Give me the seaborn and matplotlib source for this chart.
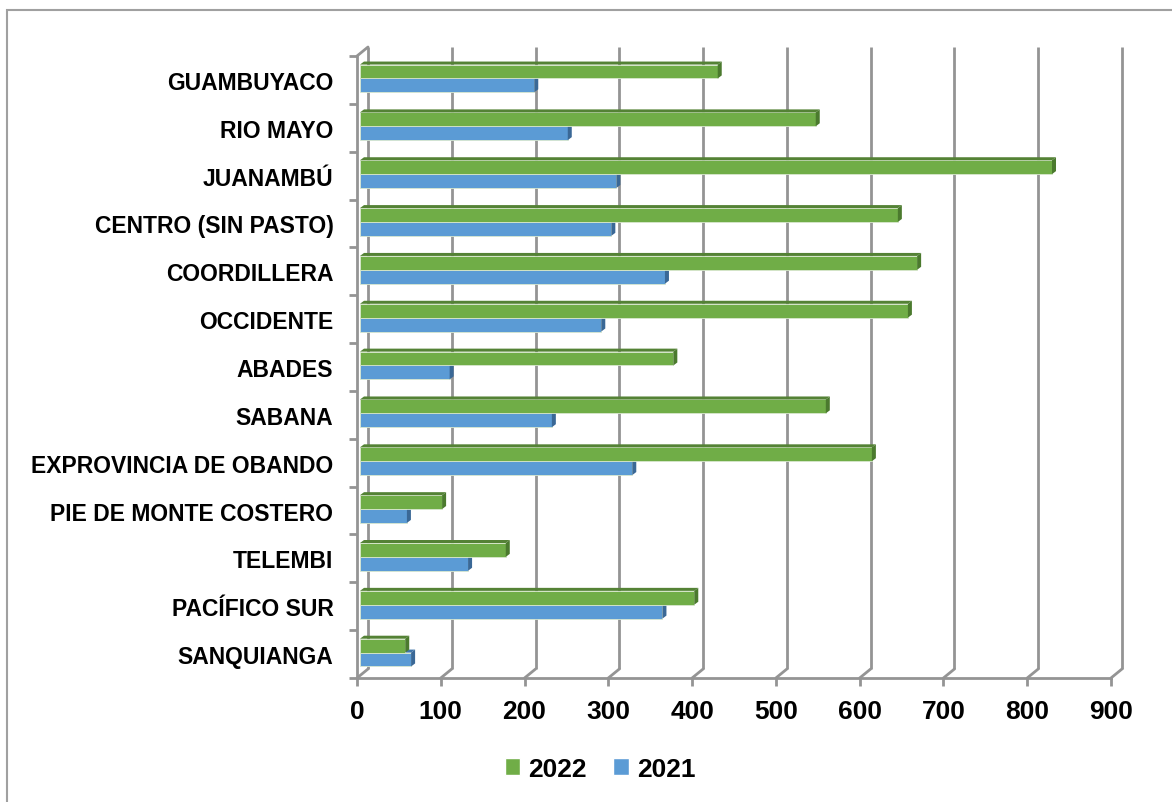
import matplotlib
matplotlib.use("Agg")
import matplotlib.pyplot as plt
from matplotlib.patches import Polygon, Patch, Rectangle
import seaborn as sns
import pandas as pd

# data
regions = ["GUAMBUYACO", "RIO MAYO", "JUANAMBÚ", "CENTRO (SIN PASTO)", "COORDILLERA",
           "OCCIDENTE", "ABADES", "SABANA", "EXPROVINCIA DE OBANDO",
           "PIE DE MONTE COSTERO", "TELEMBI", "PACÍFICO SUR", "SANQUIANGA"]
values_2022 = [427, 544, 826, 642, 665, 654, 374, 556, 611, 98, 174, 399, 54]
values_2021 = [208, 248, 306, 300, 364, 288, 107, 229, 325, 56, 129, 361, 61]
years = ["2022", "2021"]
x_ticks = [0, 100, 200, 300, 400, 500, 600, 700, 800, 900]

GREEN = "#70AD47"
GREEN_TOP = "#548235"
GREEN_END = "#4B7A2E"
BLUE = "#5B9BD5"
BLUE_TOP = "#3F75A8"
BLUE_END = "#3A6896"
GRID = "#949494"

df = pd.DataFrame({
    "region": regions * 2,
    "year": [years[0]] * len(regions) + [years[1]] * len(regions),
    "value": values_2022 + values_2021,
})

sns.set_style("white")
plt.rcParams["font.family"] = ["Liberation Sans", "DejaVu Sans"]
plt.rcParams["font.weight"] = "bold"
plt.rcParams["text.color"] = "black"
plt.rcParams["xtick.labelcolor"] = "black"
plt.rcParams["ytick.labelcolor"] = "black"

W, H = 1172, 803
fig = plt.figure(figsize=(W / 100, H / 100), dpi=100)
left, right, top, bottom = 357, 1111, 57, 679
ax = fig.add_axes([left / W, 1 - bottom / H, (right - left) / W, (bottom - top) / H])

sns.barplot(data=df, y="region", x="value", hue="year", hue_order=years,
            palette=[GREEN, BLUE], orient="h", width=0.58, ax=ax,
            legend=False, saturation=1, linewidth=0.6, edgecolor="#d9e8cf",
            zorder=3)

n = len(regions)
ax.set_xlim(0, 900)
ax.set_ylim(n - 0.5, -0.5)

# pixel -> data conversions for the fake 3D depth
px_x = (right - left) / 900.0
px_y = (bottom - top) / float(n)
wall_dx, wall_dy = 11 / px_x, 9 / px_y
cap_dx, cap_dy = 4 / px_x, 3 / px_y
bar_dx, bar_dy = 3 / px_x, 1.5 / px_y

# back wall gridlines and floor diagonals
for v in x_ticks:
    ax.plot([v + wall_dx, v + wall_dx], [n - 0.5 - wall_dy, -0.5 - wall_dy],
            color=GRID, lw=2, zorder=1, clip_on=False, solid_capstyle="butt")
    ax.plot([v, v + wall_dx], [n - 0.5, n - 0.5 - wall_dy],
            color=GRID, lw=2, zorder=1, clip_on=False)
ax.plot([0, wall_dx], [-0.5, -0.5 - wall_dy], color=GRID, lw=2, zorder=1, clip_on=False)

# shift bars onto their depth plane and add top / end faces
for p in ax.patches:
    p.set_x(p.get_x() + bar_dx)
    p.set_y(p.get_y() - bar_dy)
bars = list(ax.patches)
half = len(bars) // 2
for i, p in enumerate(bars):
    is_green = i < half
    z = 4 if is_green else 3
    p.set_zorder(z)
    x0, x1 = p.get_x(), p.get_x() + p.get_width()
    yt, yb = p.get_y(), p.get_y() + p.get_height()
    top_c = GREEN_TOP if is_green else BLUE_TOP
    end_c = GREEN_END if is_green else BLUE_END
    ax.add_patch(Polygon([(x0, yt), (x1, yt), (x1 + cap_dx, yt - cap_dy), (x0 + cap_dx, yt - cap_dy)],
                         closed=True, facecolor=top_c, edgecolor="none", zorder=z, clip_on=False))
    ax.add_patch(Polygon([(x1, yt), (x1, yb), (x1 + cap_dx, yb - cap_dy), (x1 + cap_dx, yt - cap_dy)],
                         closed=True, facecolor=end_c, edgecolor="none", zorder=z, clip_on=False))

# front wall and floor edges
for s in ["top", "right"]:
    ax.spines[s].set_visible(False)
for s in ["left", "bottom"]:
    ax.spines[s].set_color(GRID)
    ax.spines[s].set_linewidth(2)

ax.set_xticks(x_ticks)
ax.set_xticklabels([str(t) for t in x_ticks])
ax.set_yticks(range(n))
ax.set_yticklabels(regions)
ax.set_yticks([i - 0.5 for i in range(n + 1)], minor=True)
ax.tick_params(axis="x", length=6, width=2, color=GRID, pad=9, labelsize=19, bottom=True)
ax.tick_params(axis="y", which="major", length=0, pad=17, labelsize=16.5)
ax.tick_params(axis="y", which="minor", length=6, width=2, color=GRID, left=True)
for lab in ax.get_xticklabels() + ax.get_yticklabels():
    lab.set_fontweight("bold")
    lab.set_color("black")
ax.set_xlabel("")
ax.set_ylabel("")
ax.grid(False)

# legend at the bottom
handles = [Patch(facecolor=GREEN, label=years[0]), Patch(facecolor=BLUE, label=years[1])]
fig.legend(handles=handles, loc="center", bbox_to_anchor=(600 / W, 1 - 770 / H), ncol=2,
           frameon=False, prop={"size": 19, "weight": "bold"}, handlelength=0.6,
           handleheight=0.6, handletextpad=0.3, columnspacing=1.0)

# outer chart border (runs off the right and bottom edges)
fig.add_artist(Rectangle((7 / W, -0.05), 1.2, 1.05 - 11 / H, transform=fig.transFigure,
                         fill=False, edgecolor="#a0a0a0", lw=1.5))

fig.savefig("out.png", dpi=100)
